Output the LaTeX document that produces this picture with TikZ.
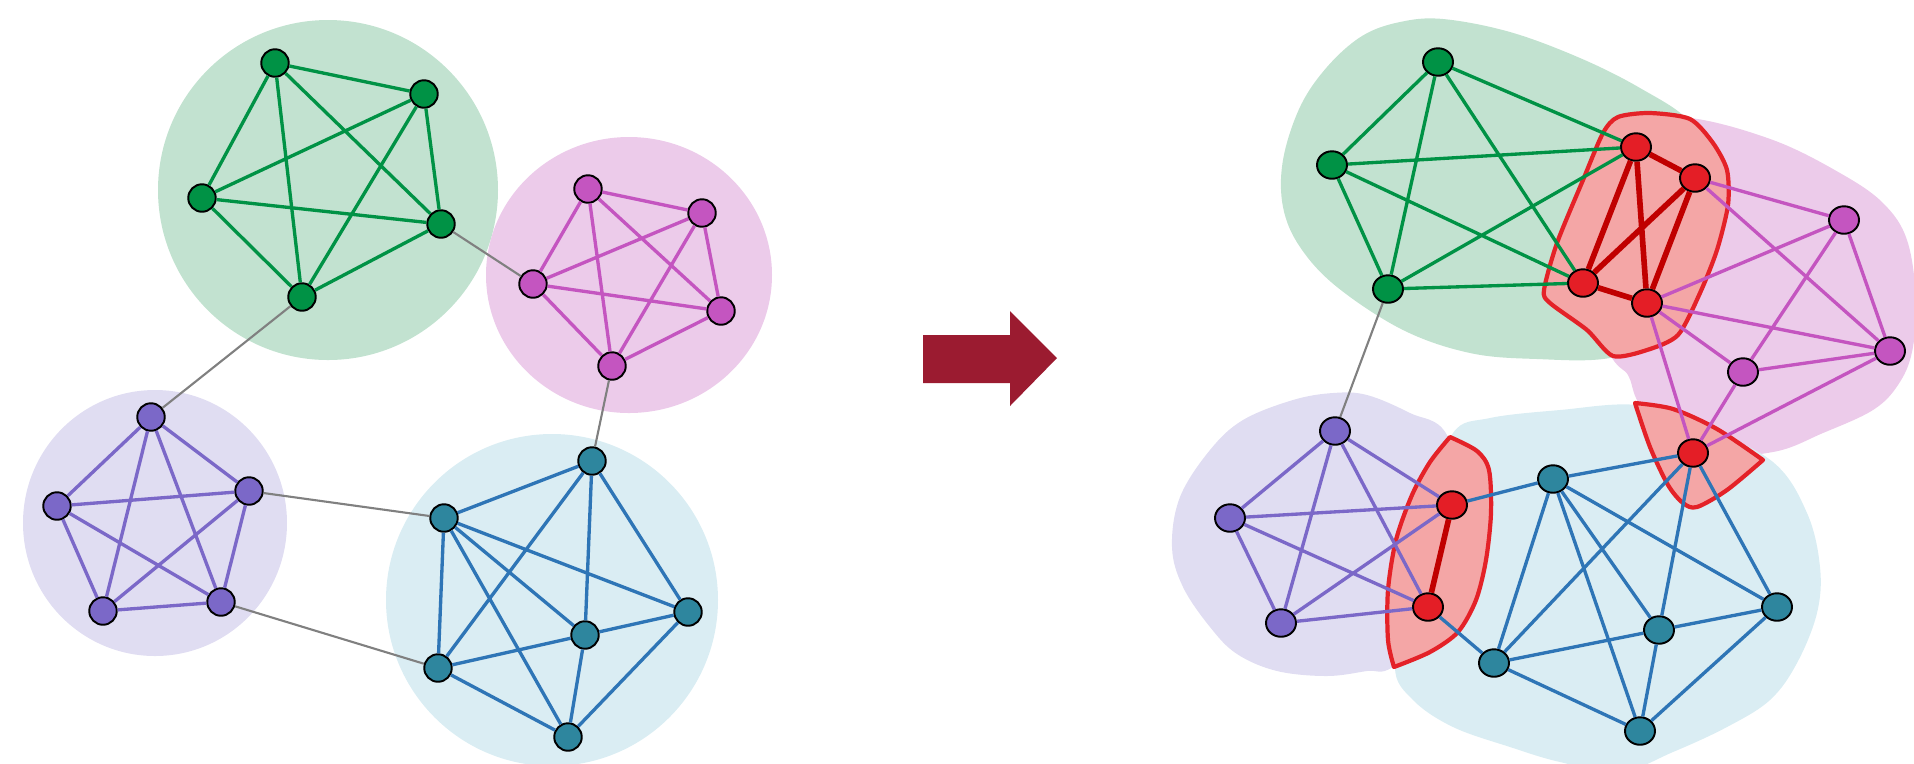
\documentclass[tikz,border=0pt]{standalone}
\usetikzlibrary{shapes.geometric}

\definecolor{grn}{RGB}{0,146,69}
\definecolor{grnbg}{RGB}{194,226,208}
\definecolor{pnk}{RGB}{196,85,192}
\definecolor{pnkbg}{RGB}{236,203,234}
\definecolor{prp}{RGB}{123,104,200}
\definecolor{prpbg}{RGB}{224,221,242}
\definecolor{tl}{RGB}{46,134,158}
\definecolor{blu}{RGB}{46,117,182}
\definecolor{blubg}{RGB}{218,237,243}
\definecolor{rednode}{RGB}{228,30,38}
\definecolor{redline}{RGB}{192,0,0}
\definecolor{redfill}{RGB}{244,166,166}
\definecolor{redrim}{RGB}{228,34,40}
\definecolor{arrowred}{RGB}{155,27,48}

\tikzset{
vtx/.style={circle, draw=black, line width=0.55pt, inner sep=0pt, minimum size=2.75mm},
vtxe/.style={ellipse, draw=black, line width=0.55pt, inner sep=0pt, minimum width=3mm, minimum height=2.75mm},
gn/.style={fill=grn}, pn/.style={fill=pnk}, un/.style={fill=prp},
bn/.style={fill=tl}, rn/.style={fill=rednode},
ge/.style={draw=grn, line width=0.95pt}, pe/.style={draw=pnk, line width=0.95pt},
ue/.style={draw=prp, line width=0.95pt}, be/.style={draw=blu, line width=0.95pt},
re/.style={draw=redline, line width=1.6pt},
link/.style={draw=gray, line width=0.6pt},
hull/.style={fill=redfill, draw=redrim, line width=1.2pt, line join=round}
}

\begin{document}
\begin{tikzpicture}[x=0.1mm, y=-0.1mm]
\useasboundingbox (0,0) rectangle (1914,763);

\fill[grnbg] (328,190) circle (170);
\fill[pnkbg] (629,275) ellipse [x radius=143, y radius=138];
\fill[prpbg] (155,523) ellipse [x radius=132, y radius=133];
\fill[blubg] (552,600) circle (166);

\fill[grnbg] plot[smooth cycle, tension=0.6] coordinates {(1443,19) (1510,32) (1580,58) (1640,88) (1690,122) (1712,170) (1712,260) (1675,335) (1610,358) (1537,359) (1470,353) (1403,330) (1337,287) (1300,247) (1283,207) (1283,160) (1300,107) (1327,67) (1362,36) (1400,22)};
\fill[pnkbg] plot[smooth cycle, tension=0.6] coordinates {(1690,118) (1773,140) (1840,173) (1883,203) (1907,240) (1916,300) (1912,352) (1898,385) (1873,410) (1823,433) (1773,452) (1700,455) (1652,425) (1636,398) (1628,375) (1612,358) (1580,300) (1588,190) (1630,125)};
\fill[prpbg] plot[smooth cycle, tension=0.6] coordinates {(1333,393) (1367,395) (1410,413) (1447,435) (1470,520) (1450,620) (1393,667) (1367,671) (1327,676) (1277,671) (1237,654) (1210,627) (1183,587) (1172,547) (1180,497) (1210,450) (1243,420) (1293,400)};
\fill[blubg] plot[smooth cycle, tension=0.6] coordinates {(1453,433) (1490,418) (1560,410) (1637,405) (1700,425) (1773,462) (1807,513) (1820,567) (1817,613) (1797,663) (1770,700) (1727,727) (1673,752) (1620,772) (1560,762) (1510,747) (1453,727) (1413,700) (1395,667) (1412,600) (1432,500)};

\draw[hull] plot[smooth cycle, tension=0.45] coordinates {(1618,117) (1650,113) (1690,119) (1713,143) (1727,170) (1728,205) (1717,250) (1700,293) (1678,335) (1647,350) (1613,356) (1587,330) (1550,303) (1544,290) (1557,243) (1583,180) (1603,133)};
\draw[hull] plot[smooth, tension=0.5] coordinates {(1450,437) (1477,451) (1489,470) (1491,513) (1486,560) (1476,600) (1458,632) (1430,652) (1394,667)}
 -- plot[smooth, tension=0.5] coordinates {(1394,667) (1388,640) (1388,590) (1396,540) (1412,495) (1430,462) (1450,437)} -- cycle;
\draw[hull] plot[smooth, tension=0.5] coordinates {(1635,403) (1673,409) (1717,429) (1763,460)}
 -- plot[smooth, tension=0.5] coordinates {(1763,460) (1727,490) (1697,507) (1683,503) (1668,485) (1650,447) (1635,403)} -- cycle;

\fill[arrowred] (923,335) -- (1010,335) -- (1010,311) -- (1057,358) -- (1010,406) -- (1010,383) -- (923,383) -- cycle;

    \draw
(275,63) node[vtx, gn](G1){}
(424,94) node[vtx, gn](G2){}
(202,198) node[vtx, gn](G3){}
(441,224) node[vtx, gn](G4){}
(302,297) node[vtx, gn](G5){}
(588,189) node[vtx, pn](P1){}
(702,213) node[vtx, pn](P2){}
(533,284) node[vtx, pn](P3){}
(721,311) node[vtx, pn](P4){}
(612,366) node[vtx, pn](P5){}
(151,417) node[vtx, un](U1){}
(57,506) node[vtx, un](U2){}
(249,491) node[vtx, un](U3){}
(103,611) node[vtx, un](U4){}
(221,602) node[vtx, un](U5){}
(592,461) node[vtx, bn](B1){}
(444,518) node[vtx, bn](B2){}
(688,612) node[vtx, bn](B3){}
(585,635) node[vtx, bn](B4){}
(438,668) node[vtx, bn](B5){}
(568,737) node[vtx, bn](B6){}
;
    \draw
(1438,62) node[vtxe, gn](g1){}
(1332,165) node[vtxe, gn](g2){}
(1388,289) node[vtxe, gn](g3){}
(1636,147) node[vtxe, rn](r1){}
(1695,178) node[vtxe, rn](r2){}
(1583,283) node[vtxe, rn](r3){}
(1647,303) node[vtxe, rn](r4){}
(1693,453) node[vtxe, rn](r5){}
(1452,505) node[vtxe, rn](r6){}
(1428,607) node[vtxe, rn](r7){}
(1844,220) node[vtxe, pn](p1){}
(1890,351) node[vtxe, pn](p2){}
(1743,372) node[vtxe, pn](p3){}
(1335,431) node[vtxe, un](u1){}
(1230,518) node[vtxe, un](u2){}
(1281,623) node[vtxe, un](u3){}
(1553,479) node[vtxe, bn](b1){}
(1494,663) node[vtxe, bn](b2){}
(1659,630) node[vtxe, bn](b3){}
(1777,607) node[vtxe, bn](b4){}
(1640,731) node[vtxe, bn](b5){}
;

    \draw[ge]
(G1) -- (G2) (G1) -- (G3) (G1) -- (G4) (G1) -- (G5)
(G2) -- (G3) (G2) -- (G4) (G2) -- (G5)
(G3) -- (G4) (G3) -- (G5) (G4) -- (G5)
;
    \draw[pe]
(P1) -- (P2) (P1) -- (P3) (P1) -- (P4) (P1) -- (P5)
(P2) -- (P3) (P2) -- (P4) (P2) -- (P5)
(P3) -- (P4) (P3) -- (P5) (P4) -- (P5)
;
    \draw[ue]
(U1) -- (U2) (U1) -- (U3) (U1) -- (U4) (U1) -- (U5)
(U2) -- (U3) (U2) -- (U4) (U2) -- (U5)
(U3) -- (U4) (U3) -- (U5) (U4) -- (U5)
;
    \draw[be]
(B1) -- (B2) (B1) -- (B3) (B1) -- (B4) (B1) -- (B5)
(B2) -- (B3) (B2) -- (B4) (B2) -- (B5) (B2) -- (B6)
(B3) -- (B4) (B3) -- (B6)
(B4) -- (B5) (B4) -- (B6) (B5) -- (B6)
;
    \draw[link]
(G4) -- (P3) (G5) -- (U1) (P5) -- (B1) (U3) -- (B2) (U5) -- (B5)
;

    \draw[ge]
(g1) -- (g2) (g1) -- (g3) (g1) -- (r1) (g1) -- (r3)
(g2) -- (r1) (g2) -- (r3) (g2) -- (g3)
(g3) -- (r1) (g3) -- (r3)
;
    \draw[pe]
(r2) -- (p1) (r2) -- (p2)
(r4) -- (p1) (r4) -- (p2) (r4) -- (p3) (r4) -- (r5)
(p1) -- (p2) (p1) -- (p3) (p2) -- (p3)
(p3) -- (r5) (p2) -- (r5)
;
    \draw[ue]
(u1) -- (u2) (u1) -- (u3) (u1) -- (r6) (u1) -- (r7)
(u2) -- (u3) (u2) -- (r6) (u2) -- (r7)
(u3) -- (r6) (u3) -- (r7)
;
    \draw[be]
(r6) -- (b1) (r7) -- (b2)
(r5) -- (b1) (r5) -- (b2) (r5) -- (b3) (r5) -- (b4)
(b1) -- (b2) (b1) -- (b3) (b1) -- (b4) (b1) -- (b5)
(b2) -- (b3) (b2) -- (b5)
(b3) -- (b4) (b3) -- (b5) (b4) -- (b5)
;
    \draw[re]
(r1) -- (r2) (r1) -- (r3) (r1) -- (r4)
(r2) -- (r3) (r2) -- (r4) (r3) -- (r4)
(r6) -- (r7)
;
    \draw[link]
(g3) -- (u1)
;
\end{tikzpicture}
\end{document}
